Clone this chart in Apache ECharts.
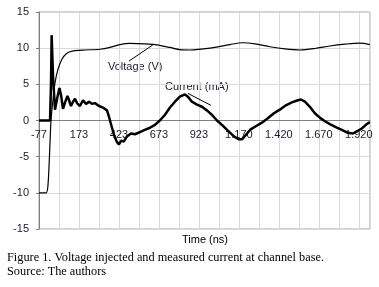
<!DOCTYPE html>
<html>
<head>
<meta charset="utf-8">
<script src="https://cdn.jsdelivr.net/npm/echarts@6/dist/echarts.min.js"></script>
<style>
	html, body { margin: 0; padding: 0; background: #fff; }
	#chart { width: 379px; height: 287px; }
</style>
</head>
<body>
<div id="chart"></div>
<script>
	// time axis starts at -77 ns, shift so the axis min is 0
	var T0 = -77;

	var xTickLabels = [ '-77', '173', '423', '673', '923', '1.170', '1.420', '1.670', '1.920' ];
	var yTicks = [ -15, -10, -5, 0, 5, 10, 15 ];

	// Voltage (V)
	var voltTime = [ -77, -33, -21, -8, -2, 11, 23, 42, 67, 92, 117, 148, 210, 304, 367, 429, 492, 585, 648, 742,
		804, 867, 992, 1117, 1198, 1273, 1367, 1461, 1554, 1648, 1742, 1836, 1929, 1992 ];
	var voltVal = [ -10, -10, -9, -3, 0, 3, 5.2, 7.1, 8.5, 9.2, 9.5, 9.65, 9.75, 9.85, 10.1, 10.5, 10.65, 10.6, 10.5, 10.1,
		9.8, 9.75, 10.0, 10.5, 10.75, 10.6, 10.2, 9.9, 9.75, 9.95, 10.3, 10.55, 10.7, 10.5 ];

	// Current (mA)
	var curTime = [ -77, -8, -2, 2, 11, 23, 36, 51, 61, 73, 86, 101, 111, 123, 136, 148, 161, 179, 198, 217,
		236, 254, 273, 292, 311, 329, 348, 361, 367, 392, 411, 423, 436, 454, 473, 498, 523, 554, 585, 617,
		648, 679, 711, 742, 773, 804, 836, 854, 879, 911, 942, 973, 1004, 1036, 1067, 1104, 1142, 1173, 1192, 1217,
		1242, 1279, 1317, 1354, 1392, 1429, 1467, 1504, 1542, 1561, 1586, 1617, 1648, 1679, 1711, 1742, 1779, 1817, 1854, 1886,
		1911, 1942, 1967, 1992 ];
	var curVal = [ 0, 0, 5, 11.8, 6, 1.5, 3, 4.5, 3.5, 1.6, 2.5, 3.4, 2.8, 2.0, 2.6, 3.0, 2.4, 2.0, 2.8, 2.3,
		2.6, 2.3, 2.4, 2.1, 1.9, 1.7, 1.4, 0.5, 0, -2, -3.0, -3.3, -2.8, -2.9, -2.2, -1.8, -1.9, -1.6, -1.3, -1.0,
		-0.6, 0.0, 0.8, 1.8, 2.6, 3.3, 3.6, 3.3, 2.6, 2.2, 1.9, 1.4, 0.8, 0.0, -0.6, -1.4, -2.2, -2.6, -2.6, -2.0,
		-1.3, -0.8, -0.3, 0.3, 1.0, 1.5, 2.1, 2.5, 2.8, 2.9, 2.6, 1.9, 1.0, 0.4, -0.1, -0.5, -0.9, -1.3, -1.7, -1.8,
		-1.5, -1.1, -0.6, -0.2 ];

	// leader lines of the two labels [time, value]
	var voltLeader = [ [ 485, 8.2 ], [ 635, 10.45 ] ];
	var curLeader = [ [ 854, 3.75 ], [ 998, 2.1 ] ];

	function pairs(ts, vs) {
		var out = [];
		for (var i = 0; i < ts.length; i++) {
			out.push([ ts[i] - T0, vs[i] ]);
		}
		return out;
	}
	function shift(p) {
		return [ p[0] - T0, p[1] ];
	}

	var labelFont = 'Liberation Sans, Arial, sans-serif';
	var capFont = '12.3px Liberation Serif, Times New Roman, serif';

	var gridTop = 12, gridBottom = 58, chartH = 287;
	// the time axis crosses at value 0, half way down the plot
	var zeroOffset = -(chartH - gridTop - gridBottom) / 2;

	var option = {
		animation : false,
		grid : {
			left : 39,
			right : 9,
			top : gridTop,
			bottom : gridBottom,
			show : true,
			borderColor : '#a6a6a6',
			borderWidth : 1
		},
		xAxis : {
			type : 'value',
			min : 0,
			max : 2070,
			interval : 125,
			position : 'bottom',
			offset : zeroOffset,
			axisLine : {
				onZero : false,
				lineStyle : {
					color : '#7f7f7f'
				}
			},
			axisTick : {
				show : false
			},
			axisLabel : {
				margin : 9,
				color : '#1a1a2e',
				fontFamily : labelFont,
				fontSize : 11,
				showMaxLabel : false,
				formatter : function(v) {
					if (v % 250 === 0 && xTickLabels[v / 250] !== undefined) {
						return xTickLabels[v / 250];
					}
					return '';
				}
			},
			splitLine : {
				lineStyle : {
					color : '#d9d9d9'
				}
			}
		},
		yAxis : {
			type : 'value',
			min : yTicks[0],
			max : yTicks[yTicks.length - 1],
			interval : 5,
			axisLine : {
				show : true,
				lineStyle : {
					color : '#7f7f7f'
				}
			},
			axisTick : {
				show : true,
				length : 3,
				lineStyle : {
					color : '#7f7f7f'
				}
			},
			axisLabel : {
				margin : 10,
				color : '#1a1a2e',
				fontFamily : labelFont,
				fontSize : 11
			},
			splitLine : {
				lineStyle : {
					color : '#d9d9d9'
				}
			}
		},
		series : [
			{
				name : 'Voltage (V)',
				type : 'line',
				showSymbol : false,
				smooth : 0.3,
				lineStyle : {
					color : '#000',
					width : 1.2
				},
				data : pairs(voltTime, voltVal),
				markLine : {
					silent : true,
					symbol : 'none',
					label : { show : false },
					lineStyle : { color : '#000', width : 1, type : 'solid' },
					data : [ [ { coord : shift(voltLeader[0]) }, { coord : shift(voltLeader[1]) } ] ]
				}
			},
			{
				name : 'Current (mA)',
				type : 'line',
				showSymbol : false,
				lineStyle : {
					color : '#000',
					width : 2.5
				},
				data : pairs(curTime, curVal),
				markLine : {
					silent : true,
					symbol : 'none',
					label : { show : false },
					lineStyle : { color : '#000', width : 1, type : 'solid' },
					data : [ [ { coord : shift(curLeader[0]) }, { coord : shift(curLeader[1]) } ] ]
				}
			}
		],
		graphic : [
			{
				type : 'text', left : 108, top : 61,
				style : { text : 'Voltage (V)', fill : '#1a1a2e', font : '11px ' + labelFont }
			},
			{
				type : 'text', left : 165, top : 81,
				style : { text : 'Current (mA)', fill : '#1a1a2e', font : '11px ' + labelFont }
			},
			{
				type : 'text', left : 182, top : 234,
				style : { text : 'Time (ns)', fill : '#000', font : '11px ' + labelFont }
			},
			{
				type : 'text', left : 7, top : 252,
				style : { text : 'Figure 1. Voltage injected and measured current at channel base.', fill : '#000', font : capFont }
			},
			{
				type : 'text', left : 7, top : 266,
				style : { text : 'Source: The authors', fill : '#000', font : capFont }
			}
		]
	};

	var chart = echarts.init(document.getElementById('chart'));
	chart.setOption(option);
</script>
</body>
</html>
